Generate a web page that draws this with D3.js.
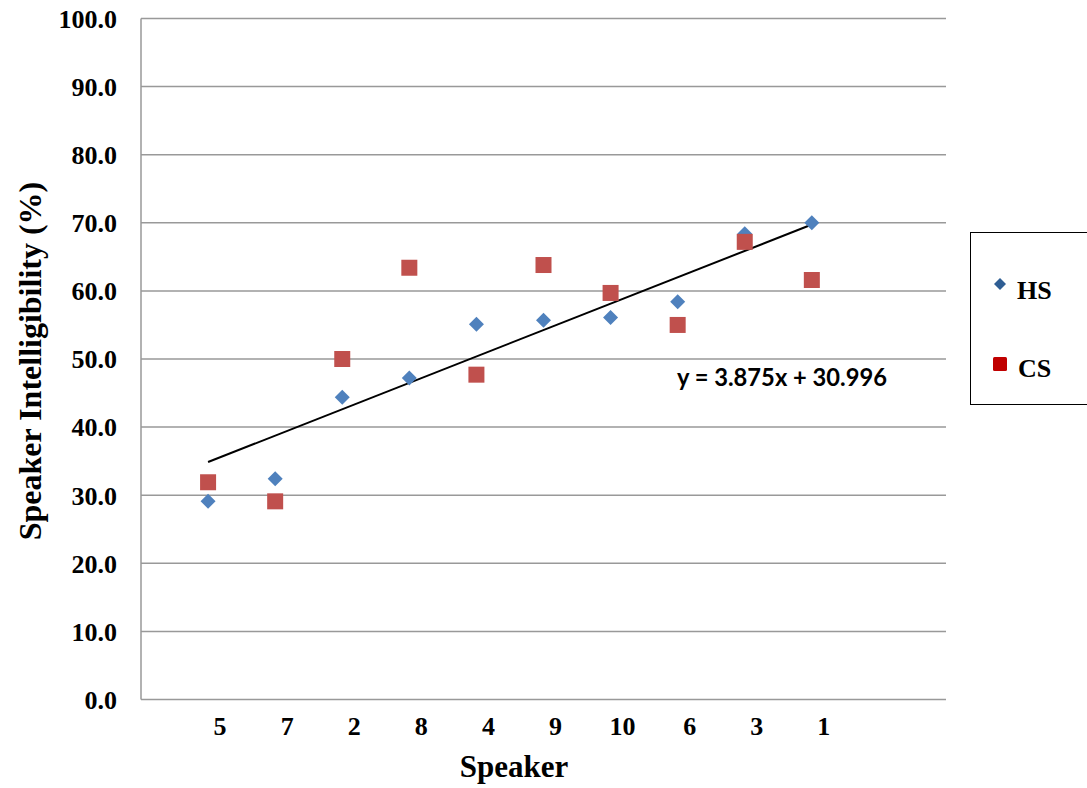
<!DOCTYPE html>
<html><head><meta charset="utf-8">
<script src="https://cdn.jsdelivr.net/npm/d3@7"></script>
<style>body{margin:0;background:#fff}svg{display:block}</style>
</head><body>
<script>
const speakers = ["5","7","2","8","4","9","10","6","3","1"];
const hsValues = [29.1,32.4,44.4,47.2,55.1,55.7,56.1,58.4,68.4,70.0];
const csValues = [31.9,29.1,50.0,63.4,47.7,63.8,59.7,55.0,67.2,61.6];
const yTicks = [0,10,20,30,40,50,60,70,80,90,100];
const trendSlope = 3.875, trendIntercept = 30.996;
const trendLabel = "y = 3.875x + 30.996";

const W = 1087, H = 788;
const svg = d3.select("body").append("svg").attr("width", W).attr("height", H);
const L = 141, R = 946, T = 18.5, B = 699.5;
const x = d3.scaleLinear().domain([0, 12]).range([L, R]);
const y = d3.scaleLinear().domain([0, 100]).range([B, T]);
const serif = "'Liberation Serif', 'Times New Roman', serif";

// gridlines
svg.append("g").selectAll("line").data(yTicks.filter(d => d > 0)).join("line")
  .attr("x1", L).attr("x2", R).attr("y1", d => y(d)).attr("y2", d => y(d))
  .attr("stroke", "#999").attr("stroke-width", 1.5);
// axes lines
svg.append("line").attr("x1", L).attr("x2", L).attr("y1", T).attr("y2", B).attr("stroke", "#999").attr("stroke-width", 1.5);
svg.append("line").attr("x1", L).attr("x2", R).attr("y1", B).attr("y2", B).attr("stroke", "#999").attr("stroke-width", 1.5);

// y tick labels
const yAxis = d3.axisLeft(y).tickValues(yTicks).tickFormat(d3.format(".1f")).tickSize(0).tickPadding(24);
const ya = svg.append("g").attr("transform", `translate(${L},0)`).call(yAxis);
ya.select(".domain").remove();
ya.selectAll("text").attr("font-family", serif).attr("font-weight", "bold").attr("font-size", 26).attr("fill", "#000").attr("dy", "0.34em");

// x tick labels
svg.append("g").selectAll("text").data(speakers).join("text")
  .attr("x", (d, i) => x(i + 1) + 12).attr("y", 735)
  .attr("text-anchor", "middle").attr("font-family", serif).attr("font-weight", "bold").attr("font-size", 26)
  .text(d => d);

// axis titles
svg.append("text").attr("x", 514).attr("y", 777).attr("text-anchor", "middle")
  .attr("font-family", serif).attr("font-weight", "bold").attr("font-size", 31).text("Speaker");
svg.append("text").attr("transform", "translate(41,361) rotate(-90)").attr("text-anchor", "middle")
  .attr("font-family", serif).attr("font-weight", "bold").attr("font-size", 32).text("Speaker Intelligibility (%)");

// trendline
svg.append("line")
  .attr("x1", x(1)).attr("y1", y(trendSlope * 1 + trendIntercept))
  .attr("x2", x(10)).attr("y2", y(trendSlope * 10 + trendIntercept))
  .attr("stroke", "#000").attr("stroke-width", 2);
svg.append("text").attr("x", 677).attr("y", 386).attr("font-family", "Lato, 'Open Sans', sans-serif")
  .attr("font-weight", "bold").attr("font-size", 24).attr("textLength", 210).attr("lengthAdjust", "spacingAndGlyphs")
  .text(trendLabel);

// markers
const diamond = s => `M0,${-s}L${s},0L0,${s}L${-s},0Z`;
svg.append("g").selectAll("path").data(hsValues).join("path")
  .attr("d", diamond(7.5)).attr("transform", (d, i) => `translate(${x(i + 1)},${y(d)})`).attr("fill", "#4F81BD");
svg.append("g").selectAll("rect").data(csValues).join("rect")
  .attr("x", (d, i) => x(i + 1) - 8).attr("y", d => y(d) - 8).attr("width", 16).attr("height", 16)
  .attr("fill", "#C0504D");

// legend
svg.append("rect").attr("x", 970.5).attr("y", 232.5).attr("width", 130).attr("height", 172)
  .attr("fill", "#fff").attr("stroke", "#000").attr("stroke-width", 1);
svg.append("path").attr("d", diamond(6)).attr("transform", "translate(1000,284)").attr("fill", "#2F5E94");
svg.append("rect").attr("x", 993).attr("y", 357).attr("width", 14).attr("height", 14).attr("rx", 1.5).attr("fill", "#C00000");
svg.append("text").attr("x", 1017).attr("y", 299).attr("font-family", serif).attr("font-weight", "bold").attr("font-size", 26).text("HS");
svg.append("text").attr("x", 1018).attr("y", 377).attr("font-family", serif).attr("font-weight", "bold").attr("font-size", 26).text("CS");
</script>
</body></html>
